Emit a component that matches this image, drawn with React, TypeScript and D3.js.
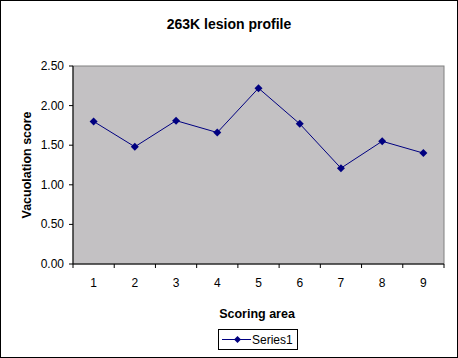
import React from "react";
import * as d3 from "d3";

const categories = ["1", "2", "3", "4", "5", "6", "7", "8", "9"];
const series1 = [1.8, 1.48, 1.81, 1.66, 2.22, 1.77, 1.21, 1.55, 1.4];
const yTicks = [0, 0.5, 1.0, 1.5, 2.0, 2.5];

const W = 458;
const H = 358;
const M = { left: 73, right: 444, top: 66, bottom: 264 };

export default function App() {
  const x = d3.scaleBand().domain(categories).range([M.left, M.right]).padding(0);
  const y = d3.scaleLinear().domain([0, 2.5]).range([M.bottom, M.top]);
  const line = d3
    .line<number>()
    .x((_, i) => (x(categories[i]) as number) + x.bandwidth() / 2)
    .y((d) => y(d));
  const font = "Arial, 'Liberation Sans', sans-serif";
  const diamond = (cx: number, cy: number, r: number) =>
    `M${cx},${cy - r}L${cx + r},${cy}L${cx},${cy + r}L${cx - r},${cy}Z`;
  const boundaries = categories.map((c) => x(c) as number).concat([M.right]);

  return (
    <svg
      width={W}
      height={H}
      style={{ position: "absolute", left: 0, top: 0 }}
      fontFamily={font}
    >
      <rect x={0.5} y={0.5} width={W - 1} height={H - 1} fill="#ffffff" stroke="#000" />
      <text x={229} y={29} textAnchor="middle" fontSize={14} fontWeight="bold">
        263K lesion profile
      </text>
      <rect
        x={M.left}
        y={M.top}
        width={M.right - M.left}
        height={M.bottom - M.top}
        fill="#c3c1c3"
        stroke="#808080"
        strokeWidth={1}
      />
      {/* y axis */}
      <line x1={M.left} x2={M.left} y1={M.top} y2={M.bottom} stroke="#000" />
      {yTicks.map((t) => (
        <g key={t}>
          <line x1={M.left - 4} x2={M.left} y1={y(t)} y2={y(t)} stroke="#000" />
          <text x={64} y={y(t) + 4} textAnchor="end" fontSize={12}>
            {t.toFixed(2)}
          </text>
        </g>
      ))}
      {/* x axis */}
      <line x1={M.left} x2={M.right} y1={M.bottom} y2={M.bottom} stroke="#000" />
      {boundaries.map((b, i) => (
        <line key={i} x1={b} x2={b} y1={M.bottom} y2={M.bottom + 4} stroke="#000" />
      ))}
      {categories.map((c) => (
        <text
          key={c}
          x={(x(c) as number) + x.bandwidth() / 2}
          y={287}
          textAnchor="middle"
          fontSize={12}
        >
          {c}
        </text>
      ))}
      <path d={line(series1) || ""} fill="none" stroke="#000080" strokeWidth={1} />
      {series1.map((v, i) => (
        <path
          key={i}
          d={diamond((x(categories[i]) as number) + x.bandwidth() / 2, y(v), 4)}
          fill="#000080"
        />
      ))}
      <text x={257} y={318} textAnchor="middle" fontSize={12.5} fontWeight="bold">
        Scoring area
      </text>
      <text
        transform={`translate(31,${(M.top + M.bottom) / 2}) rotate(-90)`}
        textAnchor="middle"
        fontSize={12.5}
        fontWeight="bold"
      >
        Vacuolation score
      </text>
      {/* legend */}
      <rect x={218.5} y={329.5} width={79} height={20} fill="#fff" stroke="#000" />
      <line x1={222} x2={251} y1={339.5} y2={339.5} stroke="#000080" />
      <path d={diamond(237.5, 339.5, 3.5)} fill="#000080" />
      <text x={252} y={344} fontSize={12}>
        Series1
      </text>
    </svg>
  );
}
